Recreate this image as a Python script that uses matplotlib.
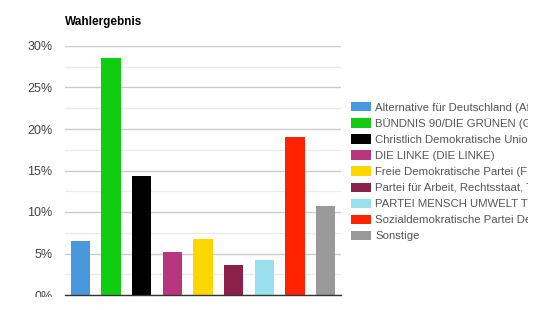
import matplotlib
matplotlib.use("Agg")
import matplotlib.pyplot as plt
from matplotlib.transforms import Bbox

parties = [
    "Alternative für Deutschland (AfD)",
    "BÜNDNIS 90/DIE GRÜNEN (GRÜNE)",
    "Christlich Demokratische Union Deutschlands (CDU)",
    "DIE LINKE (DIE LINKE)",
    "Freie Demokratische Partei (FDP)",
    "Partei für Arbeit, Rechtsstaat, Tierschutz, Elitenförderung und basisdemokratische Initiative (Die PARTEI)",
    "PARTEI MENSCH UMWELT TIERSCHUTZ (Tierschutzpartei)",
    "Sozialdemokratische Partei Deutschlands (SPD)",
    "Sonstige",
]
values = [6.5, 28.6, 14.3, 5.2, 6.7, 3.6, 4.2, 19.0, 10.7]
colors = ["#4a98dc", "#12cc12", "#000000", "#b8357f", "#ffd700",
          "#8b2149", "#9adfee", "#ff2200", "#999999"]
yticks = [0, 5, 10, 15, 20, 25, 30]
ytick_labels = ["0%", "5%", "10%", "15%", "20%", "25%", "30%"]

plt.rcParams['font.family'] = ['Liberation Sans', 'DejaVu Sans']

W, H = 544, 310
fig = plt.figure(figsize=(W / 100, H / 100), dpi=100)
ax = fig.add_axes([65 / W, (H - 295) / H, (341 - 65) / W, (295 - 46) / H])

x = list(range(len(values)))
bars = ax.bar(x, values, width=0.62, color=colors, zorder=3)

ax.set_xlim(-0.5, len(values) - 0.5)
ax.set_ylim(0, 30)
ax.set_yticks(yticks)
ax.set_yticklabels(ytick_labels, fontsize=9, color="#444444")
ax.set_yticks([2.5, 7.5, 12.5, 17.5, 22.5, 27.5], minor=True)
ax.tick_params(axis='y', which='both', length=0, pad=9)
ax.set_xticks([])
ax.grid(axis='y', which='major', color="#cccccc", linewidth=1, zorder=0)
ax.grid(axis='y', which='minor', color="#ebebeb", linewidth=1, zorder=0)
for s in ["top", "right", "left"]:
    ax.spines[s].set_visible(False)
ax.spines["bottom"].set_color("#333333")
ax.spines["bottom"].set_linewidth(1)
ax.spines["bottom"].set_zorder(4)

# the chart area is cut just below the baseline, as in the reference
tick_clip = Bbox.from_extents(0, H - 296.5, W, H)
for t in ax.get_yticklabels():
    t.set_clip_on(True)
    t.set_clip_box(tick_clip)

fig.text(65 / W, (H - 25) / H, "Wahlergebnis", fontsize=8.5, fontweight="bold",
         color="#000000", ha="left", va="baseline")

fs = 8.2
px = fs * 100 / 72
leg = fig.legend(bars, parties, loc="upper left",
                 bbox_to_anchor=(351 / W, (H - 102) / H),
                 frameon=False, fontsize=fs, handlelength=20 / px, handleheight=10 / px,
                 handletextpad=4 / px, labelspacing=0.48, borderpad=0, borderaxespad=0)
clip = Bbox.from_extents(0, 0, 528, H)
for t in leg.get_texts():
    t.set_color("#555555")
    t.set_clip_on(True)
    t.set_clip_box(clip)

fig.savefig("out.png", dpi=100)
